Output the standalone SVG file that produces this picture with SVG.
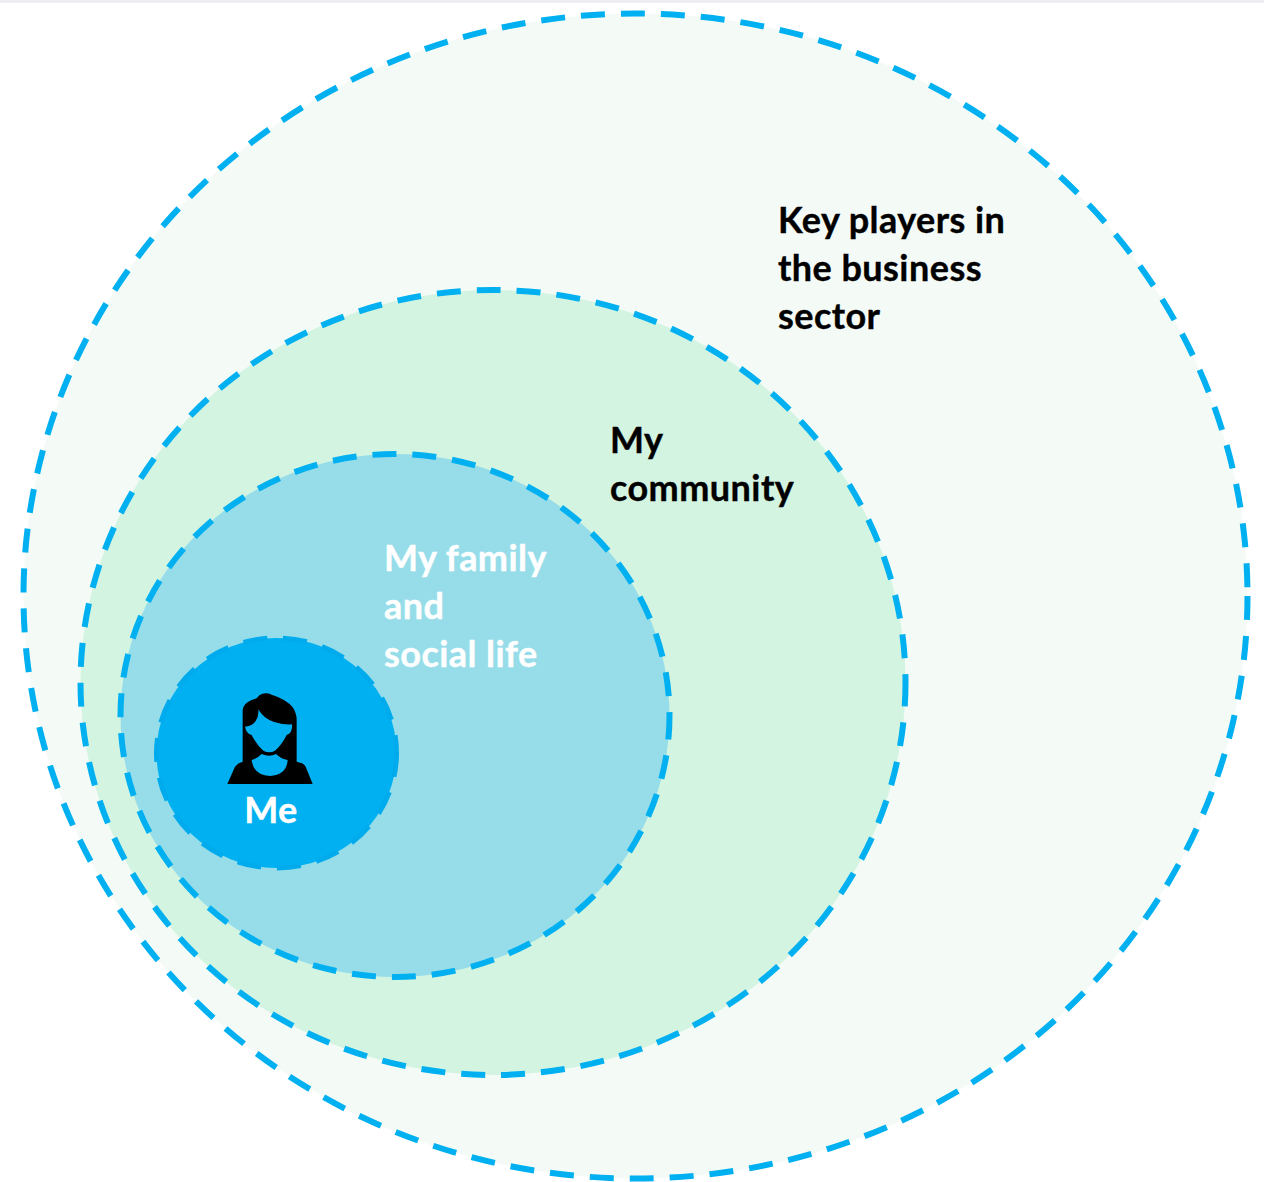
<svg xmlns="http://www.w3.org/2000/svg" width="1264" height="1182" viewBox="0 0 1264 1182">
<style>
.ring{stroke:#00b0f0;stroke-width:6;stroke-dasharray:24 16;}
.lbl{font-family:"Lato","Liberation Sans",sans-serif;font-weight:700;font-size:36px;letter-spacing:.45px;}
.dark{fill:#000;stroke:#000;stroke-width:.4px}.light{fill:#fff;stroke:#fff;stroke-width:.4px}
</style>
<rect width="1264" height="1182" fill="#fff"/>
<rect width="1264" height="3" fill="#eceef1"/>
<g id="sector"><ellipse class="ring" cx="635.5" cy="596" rx="612" ry="582.5" fill="#f4fbf7"/>
<text class="lbl dark"><tspan x="778" y="233">Key players in</tspan><tspan x="778" y="281">the business</tspan><tspan x="778" y="329">sector</tspan></text></g>
<g id="community"><ellipse class="ring" cx="493" cy="682.5" rx="412.5" ry="392.5" fill="#d3f4e1"/>
<text class="lbl dark"><tspan x="610" y="453">My</tspan><tspan x="610" y="501">community</tspan></text></g>
<g id="family"><ellipse class="ring" cx="395" cy="715.5" rx="274.5" ry="261.5" fill="#97dde9"/>
<text class="lbl light"><tspan x="384" y="571">My family</tspan><tspan x="384" y="619">and</tspan><tspan x="384" y="667">social life</tspan></text></g>
<g id="me"><ellipse cx="276.5" cy="753" rx="120" ry="115" fill="#00b0f0" stroke="#00abed" stroke-width="5" stroke-dasharray="24 16"/>
<g transform="translate(140 620) scale(.33333)">
<path fill="#000" d="M262,492 L285,440 Q295,428 308,425 L308,270 Q310,250 335,240 Q352,237 358,226 Q375,215 395,224 Q440,238 458,262 Q470,280 470,300 L470,425 Q490,428 497,440 L518,492 Z"/>
<path fill="#00b0f0" d="M315,320 Q338,318 347,303 Q357,288 355,268 Q370,295 400,305 Q430,315 456,313 Q458,340 440,345 Q425,375 405,392 Q388,402 370,392 Q350,375 335,345 Q318,340 315,320Z"/>
<path fill="#00b0f0" d="M335,420 Q352,415 365,402 Q388,412 408,402 Q425,418 443,420 Q440,465 390,468 Q340,465 335,420Z"/>
</g>
<text class="lbl light" x="271" y="823" text-anchor="middle">Me</text></g>
</svg>
